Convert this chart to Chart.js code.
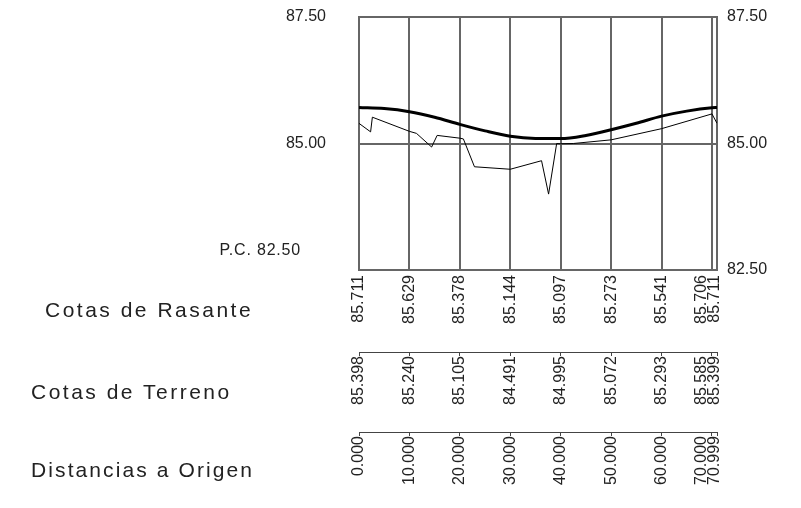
<!DOCTYPE html>
<html><head><meta charset="utf-8">
<script src="https://cdn.jsdelivr.net/npm/chart.js@4/dist/chart.umd.min.js"></script>
<style>
html,body{margin:0;padding:0;background:#fff;}
#wrap{position:relative;width:801px;height:508px;overflow:hidden;}
canvas{position:absolute;left:0;top:0;}
.lbl{position:absolute;font-family:"Liberation Sans",Arial,sans-serif;color:#222;white-space:pre;line-height:1;}
.row{font-size:21px;}
.pc{font-size:16px;letter-spacing:0.8px;}
</style></head><body>
<div id="wrap"><canvas id="c" width="801" height="508"></canvas></div>
<script>
// ---- data ----
const distances     = [0, 10, 20, 30, 40, 50, 60, 70, 70.999];
const cotasRasante  = [85.711, 85.629, 85.378, 85.144, 85.097, 85.273, 85.541, 85.706, 85.711];
const cotasTerreno  = [85.398, 85.240, 85.105, 84.491, 84.995, 85.072, 85.293, 85.585, 85.399];
const rasanteX = [0, 5, 10, 15, 20, 25, 30, 35, 40, 45, 50, 55, 60, 65, 70, 70.999];
const rasanteY = [85.711, 85.69, 85.629, 85.52, 85.378, 85.25, 85.144, 85.10, 85.097, 85.16, 85.273, 85.40, 85.541, 85.64, 85.706, 85.711];
const terrenoX = [0, 2.3, 2.65, 10, 11.4, 14.4, 15.5, 20, 20.7, 22.9, 30, 36.2, 37.6, 39.2, 40, 42.5, 50, 60, 70, 70.999];
const terrenoY = [85.398, 85.23, 85.52, 85.240, 85.20, 84.93, 85.16, 85.105, 85.09, 84.54, 84.491, 84.66, 84.0, 85.0, 84.995, 85.0, 85.072, 85.293, 85.585, 85.399];
const yTicks = [82.5, 85, 87.5];
const pcLabel = "P.C. 82.50";
const rowLabels = ["Cotas de Rasante", "Cotas de Terreno", "Distancias a Origen"];

// ---- html labels ----
const wrap = document.getElementById('wrap');
const rowPos = [[45, 299, 2.5], [31, 381, 2.5], [31, 459, 2.1]];
rowLabels.forEach((t, i) => {
  const d = document.createElement('div');
  d.className = 'lbl row'; d.textContent = t;
  d.style.left = rowPos[i][0] + 'px'; d.style.top = rowPos[i][1] + 'px';
  d.style.letterSpacing = rowPos[i][2] + 'px';
  wrap.appendChild(d);
});
const pc = document.createElement('div');
pc.className = 'lbl pc'; pc.textContent = pcLabel;
pc.style.right = (801 - 301) + 'px'; pc.style.top = '242px';
wrap.appendChild(pc);

// ---- chart ----
const GRID = '#666';
const FONT = {family: '"Liberation Sans", Arial, sans-serif', size: 16};
const TXT = '#222';
const setTicks = s => { s.ticks = distances.map(v => ({value: v})); };
const setY = s => { s.ticks = yTicks.map(v => ({value: v})); };
const fitY = w => s => { s.width = w; s.paddingTop = 0; s.paddingBottom = 0; };

// the last two columns are very close: push their labels apart like the CAD drawing does
const labelNudge = {
  id: 'labelNudge',
  beforeDraw(chart) {
    ['x', 'x2', 'x3'].forEach(id => {
      const items = chart.scales[id].getLabelItems(chart.chartArea);
      const n = items.length;
      const lastX = items[n - 1].options.translation[0];
      items[n - 1].options.translation[0] = lastX - 2;
      items[n - 2].options.translation[0] = lastX - 15;
    });
  }
};

new Chart(document.getElementById('c'), {
  type: 'line',
  data: {
    datasets: [
      {data: rasanteX.map((x, i) => ({x, y: rasanteY[i]})), borderColor: '#000', borderWidth: 3,
       pointRadius: 0, cubicInterpolationMode: 'monotone', xAxisID: 'x', yAxisID: 'y'},
      {data: terrenoX.map((x, i) => ({x, y: terrenoY[i]})), borderColor: '#000', borderWidth: 1,
       pointRadius: 0, tension: 0, xAxisID: 'x', yAxisID: 'y'}
    ]
  },
  plugins: [labelNudge],
  options: {
    responsive: false, animation: false,
    layout: {padding: {top: 17, bottom: 0, left: 0, right: 0}},
    plugins: {legend: {display: false}, tooltip: {enabled: false}},
    scales: {
      x: {type: 'linear', position: 'bottom', weight: 0, min: 0, max: 70.999,
          afterBuildTicks: setTicks,
          afterFit: s => { s.height = 82; },
          ticks: {autoSkip: false, minRotation: 90, maxRotation: 90, padding: 5, font: FONT, color: TXT,
                  callback: (v, i) => cotasRasante[i].toFixed(3)},
          grid: {color: GRID, lineWidth: 2, drawTicks: false},
          border: {color: GRID, width: 2}},
      x2: {type: 'linear', position: 'bottom', weight: 1, min: 0, max: 70.999,
          afterBuildTicks: setTicks,
          afterFit: s => { s.height = 80; },
          ticks: {autoSkip: false, minRotation: 90, maxRotation: 90, padding: 0, font: FONT, color: TXT,
                  callback: (v, i) => cotasTerreno[i].toFixed(3)},
          grid: {drawOnChartArea: false, drawTicks: true, tickLength: 4, color: '#444', lineWidth: 1},
          border: {color: '#444', width: 1}},
      x3: {type: 'linear', position: 'bottom', weight: 2, min: 0, max: 70.999,
          afterBuildTicks: setTicks,
          afterFit: s => { s.height = 76; },
          ticks: {autoSkip: false, minRotation: 90, maxRotation: 90, padding: 0, font: FONT, color: TXT,
                  callback: (v, i) => distances[i].toFixed(3)},
          grid: {drawOnChartArea: false, drawTicks: true, tickLength: 4, color: '#444', lineWidth: 1},
          border: {color: '#444', width: 1}},
      y: {type: 'linear', position: 'left', min: 82.5, max: 87.5,
          afterBuildTicks: setY,
          afterFit: fitY(359),
          ticks: {padding: 33, font: FONT, color: TXT,
                  callback: v => v === 82.5 ? '' : v.toFixed(2)},
          grid: {color: GRID, lineWidth: 2, drawTicks: false},
          border: {color: GRID, width: 2}},
      y2: {type: 'linear', position: 'right', min: 82.5, max: 87.5,
          afterBuildTicks: setY,
          afterFit: fitY(84),
          ticks: {padding: 10, font: FONT, color: TXT, callback: v => v.toFixed(2)},
          grid: {drawOnChartArea: false, drawTicks: false},
          border: {color: GRID, width: 2}}
    }
  }
});
</script>
</body></html>
